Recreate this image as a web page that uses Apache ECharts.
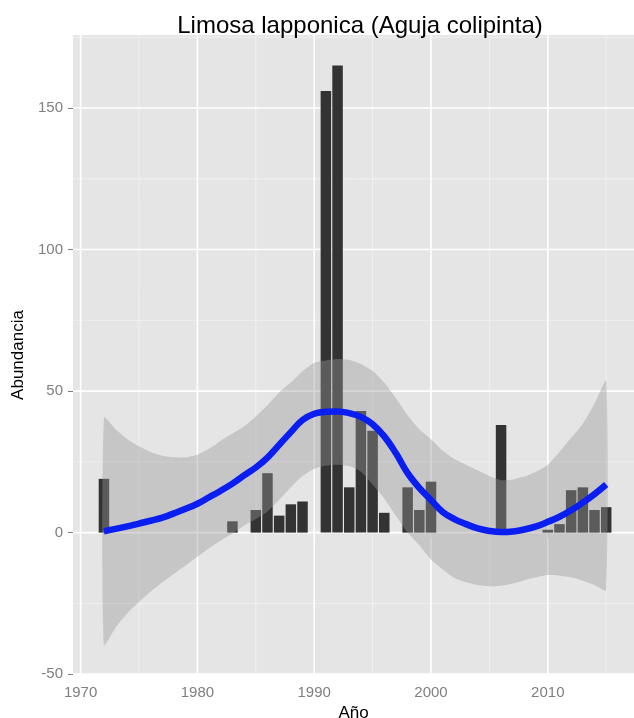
<!DOCTYPE html>
<html>
<head>
<meta charset="utf-8">
<script src="https://cdn.jsdelivr.net/npm/echarts@6/dist/echarts.min.js"></script>
<style>
html,body{margin:0;padding:0;background:#fff;}
#chart{width:634px;height:718px;}
</style>
</head>
<body>
<div id="chart"></div>
<script>
// ---- data ----
const barYears  = [1972, 1983, 1985, 1986, 1987, 1988, 1989, 1991, 1992, 1993, 1994, 1995, 1996, 1998, 1999, 2000, 2006, 2010, 2011, 2012, 2013, 2014, 2015];
const barValues = [19, 4, 8, 21, 6, 10, 11, 156, 165, 16, 43, 36, 7, 16, 8, 18, 38, 1, 3, 15, 16, 8, 9];

const smoothYears = [1972,1973,1974,1975,1976,1977,1978,1979,1980,1981,1982,1983,1984,1985,1986,1987,1988,1989,1990,1991,1992,1993,1994,1995,1996,1997,1998,1999,2000,2001,2002,2003,2004,2005,2006,2007,2008,2009,2010,2011,2012,2013,2014,2015];
const smoothFit   = [0.5,1.3,2.2,3.2,4.2,5.3,6.8,8.4,10.2,12.5,14.8,17.3,20.2,23.0,26.5,31.0,35.5,39.8,42.0,42.7,42.8,42.2,40.9,38.3,34.0,28.0,21.0,15.8,11.5,7.3,4.8,3.0,1.5,0.6,0.2,0.4,1.1,2.2,3.8,5.6,7.9,10.6,13.6,17.0];
const smoothUpper = [40.7,36.5,33.0,30.5,28.5,27.2,26.6,26.6,27.5,29.6,32.5,35.0,37.5,41.0,45.0,49.5,53.0,57.0,60.0,60.8,61.3,61.0,59.6,57.2,53.0,47.5,41.5,36.5,33.0,29.0,26.0,24.0,22.0,20.0,18.5,18.8,19.8,21.5,24.0,28.5,33.5,38.5,45.5,53.6];
const smoothLower = [-39.7,-33.5,-28.5,-24.5,-20.8,-17.5,-14.5,-11.5,-8.5,-5.5,-2.8,-0.3,2.5,4.8,7.5,11.5,16.0,20.0,22.5,23.7,24.0,23.5,21.5,17.0,12.0,6.0,0.0,-4.5,-9.5,-13.0,-16.0,-17.5,-18.5,-19.0,-18.8,-18.0,-16.8,-15.8,-15.0,-15.2,-15.8,-17.0,-18.5,-20.3];

const xTicks = [1970, 1980, 1990, 2000, 2010];
const xMinor = [1975, 1985, 1995, 2005, 2015];
const yTicks = [-50, 0, 50, 100, 150];
const yMinor = [-25, 25, 75, 125, 175];

const titleText = 'Limosa lapponica (Aguja colipinta)';
const xName = 'Año';
const yName = 'Abundancia';

// ---- chart ----
const chart = echarts.init(document.getElementById('chart'), null, {renderer: 'canvas'});
const FONT = 'Liberation Sans, Arial, Helvetica, sans-serif';

// grid line items: [value, axis ('x'|'y'), major (1|0)]
const gridItems = [];
xMinor.forEach(v => gridItems.push([v, 'x', 0]));
yMinor.forEach(v => gridItems.push([v, 'y', 0]));
xTicks.forEach(v => gridItems.push([v, 'x', 1]));
yTicks.forEach(v => gridItems.push([v, 'y', 1]));

chart.setOption({
  animation: false,
  backgroundColor: '#ffffff',
  title: {
    text: titleText,
    left: 355, top: 9, textAlign: 'center',
    textStyle: {fontFamily: FONT, fontSize: 24, fontWeight: 'normal', color: '#000'}
  },
  grid: {
    left: 73, top: 35, right: 0, bottom: 43,
    containLabel: false, outerBoundsMode: 'none',
    show: true, backgroundColor: '#E5E5E5', borderWidth: 0
  },
  xAxis: {
    type: 'value', min: 1969.35, max: 2017.38,
    axisLine: {show: false},
    splitLine: {show: false},
    axisTick: {show: true, length: 5, customValues: xTicks, lineStyle: {color: '#7F7F7F', width: 1}},
    axisLabel: {customValues: xTicks, formatter: v => String(v), color: '#7F7F7F', fontFamily: FONT, fontSize: 15, margin: 10},
    name: xName, nameLocation: 'middle', nameGap: 21,
    nameTextStyle: {fontFamily: FONT, fontSize: 17, color: '#000'}
  },
  yAxis: {
    type: 'value', min: -50.3, max: 175.8,
    axisLine: {show: false},
    splitLine: {show: false},
    axisTick: {show: true, length: 5, customValues: yTicks, lineStyle: {color: '#7F7F7F', width: 1}},
    axisLabel: {customValues: yTicks, formatter: v => String(v), color: '#7F7F7F', fontFamily: FONT, fontSize: 15, margin: 10},
    name: yName, nameLocation: 'middle', nameGap: 43, nameRotate: 90,
    nameTextStyle: {fontFamily: FONT, fontSize: 17, color: '#000'}
  },
  series: [
    {
      type: 'custom', z: 1, silent: true, clip: true,
      data: gridItems,
      encode: {x: -1, y: -1},
      renderItem: function (params, api) {
        const cs = params.coordSys;
        const item = gridItems[params.dataIndex];
        const v = item[0], isX = item[1] === 'x', major = item[2] === 1;
        let shape;
        if (isX) {
          const px = api.coord([v, 0])[0];
          shape = {x1: px, y1: cs.y, x2: px, y2: cs.y + cs.height};
        } else {
          const py = api.coord([1990, v])[1];
          shape = {x1: cs.x, y1: py, x2: cs.x + cs.width, y2: py};
        }
        return {
          type: 'line', shape: shape,
          style: {stroke: major ? '#FFFFFF' : '#F2F2F2', lineWidth: major ? 1.6 : 0.8}
        };
      }
    },
    {
      type: 'bar', z: 2, silent: true,
      data: barYears.map((y, i) => [y, barValues[i]]),
      barWidth: 10.5,
      itemStyle: {color: '#333333'}
    },
    {
      type: 'custom', z: 3, silent: true, clip: true,
      data: smoothYears.map((y, i) => [y, smoothUpper[i]]),
      renderItem: function (params, api) {
        if (params.dataIndex !== 0) return null;
        const pts = [];
        for (let i = 0; i < smoothYears.length; i++) pts.push(api.coord([smoothYears[i], smoothUpper[i]]));
        for (let i = smoothYears.length - 1; i >= 0; i--) pts.push(api.coord([smoothYears[i], smoothLower[i]]));
        return {type: 'polygon', shape: {points: pts, smooth: 0.2}, style: {fill: 'rgba(153,153,153,0.4)'}};
      }
    },
    {
      type: 'line', z: 4, silent: true,
      data: smoothYears.map((y, i) => [y, smoothFit[i]]),
      smooth: 0.4, symbol: 'none',
      lineStyle: {color: '#0A1EF2', width: 6.5}
    }
  ]
});
</script>
</body>
</html>
